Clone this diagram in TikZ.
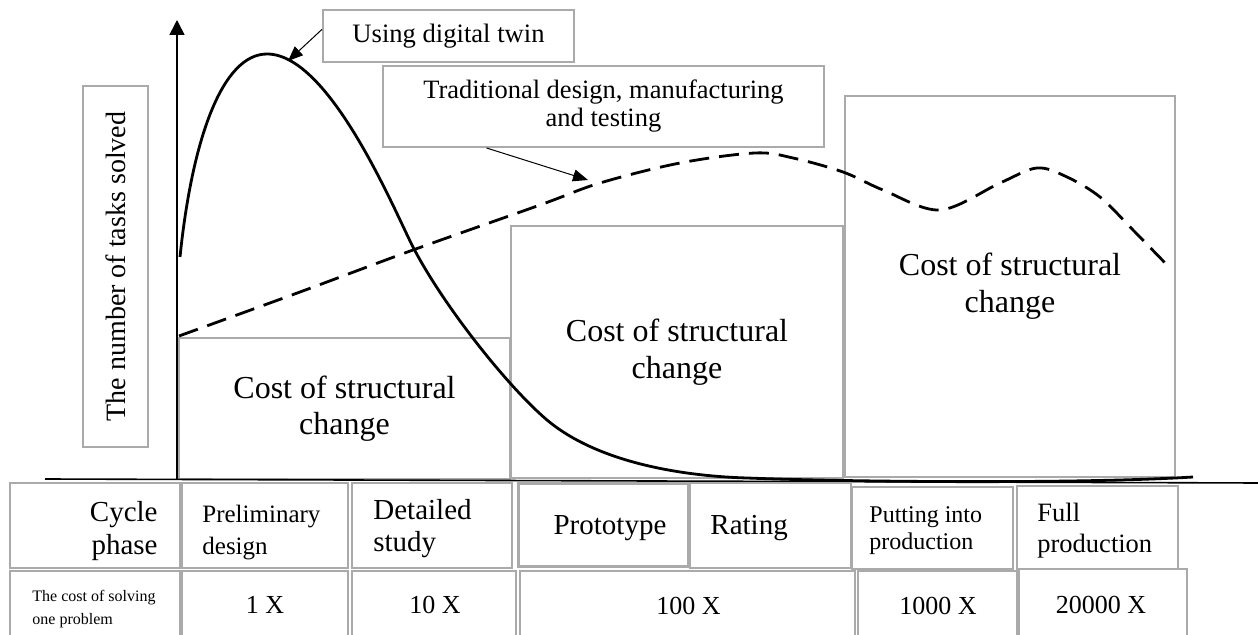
\documentclass[tikz,border=0pt]{standalone}
\usepackage{fontspec}
\setmainfont{Liberation Serif}
\usetikzlibrary{arrows.meta,calc}
\definecolor{boxgray}{RGB}{170,170,170}
\newcommand{\twoln}[3][l]{\begin{tabular}[t]{@{}#1@{}}#2\\#3\end{tabular}}
\newcommand{\fsz}[2]{\fontsize{#1}{#2}\selectfont}
\begin{document}
\begin{tikzpicture}[x=0.5pt,y=-0.5pt,
  gbox/.style={draw=boxgray,line width=1pt,inner sep=0pt},
  cell/.style={draw=boxgray,line width=1pt},
  curve/.style={line width=1.4pt,black},
  lbl/.style={inner sep=0pt},
  pointer/.style={line width=0.5pt,-{Triangle[length=7.5pt,width=6pt]}},
  axis/.style={line width=0.8pt}
]
\useasboundingbox (0,0) rectangle (1258,635);
\clip (0,0) rectangle (1258,635);

% label boxes
\node[gbox, rotate=90, minimum width=180.5pt, minimum height=32.5pt, font={\fsz{14pt}{16pt}}] (ylab) at (115.5,266.5) {The number of tasks solved};
\node[gbox, minimum width=125.5pt, minimum height=26pt, font={\fsz{13.3pt}{15pt}}] (using) at (448.5,36) {Using digital twin};
\node[gbox, minimum width=220.5pt, minimum height=40.5pt, align=center, font={\fsz{13.25pt}{14pt}}] (trad) at (603.5,106.5) {Traditional design, manufacturing\\and testing};

% cost boxes
\node[gbox, minimum width=165.5pt, minimum height=70.5pt, align=center, font={\fsz{16pt}{18pt}}] (cost1) at (344.5,408.5) {Cost of structural\\change};
\node[gbox, minimum width=166pt, minimum height=126pt, align=center, font={\fsz{16pt}{18.5pt}}] (cost2) at (677,352) {Cost of structural\\change};
\node[gbox, minimum width=165pt, minimum height=190.5pt, align=center, font={\fsz{16pt}{18.5pt}}] (cost3) at (1010,286.5) {Cost of structural\\change};

% axes
\coordinate (origin) at (177,479);
\coordinate (ytop) at (177,20);
\coordinate (xl) at (45,479);
\coordinate (xr) at (1258,483);
\draw[axis,-{Triangle[length=7.5pt,width=7.5pt]}] (origin) -- (ytop);
\draw[axis] (xl) -- (xr);

% curves
\draw[curve] (180,257) .. controls (192,140) and (222,54) .. (267,54)
  .. controls (330,54) and (395,212) .. (413,247)
  .. controls (443,305) and (507,386) .. (547,420)
  .. controls (597,462) and (680,476) .. (747,478)
  .. controls (850,482) and (1080,484) .. (1193,477);
\draw[curve, dash pattern=on 10pt off 5pt] plot[smooth,tension=0.55] coordinates {(179,336) (300,292) (413,250) (540,205) (600,183) (680,163) (755,153) (793,158) (843,172) (883,190) (940,210) (1000,183) (1037,168) (1067,177) (1100,197) (1133,230) (1169,267)};

% pointers
\coordinate (peak) at (288,61);
\coordinate (dashpt) at (588,180);
\draw[pointer] (using.177) -- (peak);
\draw[pointer] ($(trad.south west)!0.236!(trad.south east)$) -- (dashpt);

% table row 1
\draw[cell] (10,483) rectangle (180,568);
\draw[cell] (182,483) rectangle (348,568);
\draw[cell] (352,483) rectangle (512,568);
\draw[cell, line width=1.5pt] (518,484) rectangle (688,567);
\draw[cell] (690,483) rectangle (851,568);
\draw[cell] (852,487) rectangle (1013,569);
\draw[cell] (1017,486) rectangle (1178,569);
% table row 2
\draw[cell] (10,571) rectangle (180,660);
\draw[cell] (182,571) rectangle (348,660);
\draw[cell] (352,571) rectangle (516,660);
\draw[cell] (520,571) rectangle (855,660);
\draw[cell] (858,571) rectangle (1017,660);
\draw[cell] (1019,569) rectangle (1187,660);

\node[lbl, anchor=base east, font={\fsz{14.5pt}{16.5pt}}] (cyc) at (158,522) {\twoln[r]{Cycle}{phase}};
\node[lbl, anchor=base west, font={\fsz{12.5pt}{16pt}}] (prelim) at (202,523) {\twoln{Preliminary}{design}};
\node[lbl, anchor=base west, font={\fsz{14.5pt}{16pt}}] (detail) at (373,520) {\twoln{Detailed}{study}};
\node[lbl, anchor=base, font={\fsz{14.5pt}{17pt}}] (proto) at (610,535) {Prototype};
\node[lbl, anchor=base west, font={\fsz{14.5pt}{17pt}}] (rating) at (710,535) {Rating};
\node[lbl, anchor=base west, font={\fsz{12pt}{13.5pt}}] (putting) at (869,523) {\twoln{Putting into}{production}};
\node[lbl, anchor=base west, font={\fsz{13.25pt}{15.5pt}}] (full) at (1037,522) {\twoln{Full}{production}};

\node[lbl, anchor=base west, font={\fsz{8pt}{11.5pt}}] (costsolve) at (32,602) {\twoln{The cost of solving}{one problem}};
\node[lbl, anchor=base, font={\fsz{13pt}{15pt}}] (v1) at (265,613) {1 X};
\node[lbl, anchor=base, font={\fsz{13pt}{15pt}}] (v10) at (435,613) {10 X};
\node[lbl, anchor=base, font={\fsz{13pt}{15pt}}] (v100) at (688.5,615) {100 X};
\node[lbl, anchor=base, font={\fsz{13pt}{15pt}}] (v1000) at (938,615) {1000 X};
\node[lbl, anchor=base, font={\fsz{13pt}{15pt}}] (v20000) at (1101,613) {20000 X};
\end{tikzpicture}
\end{document}
